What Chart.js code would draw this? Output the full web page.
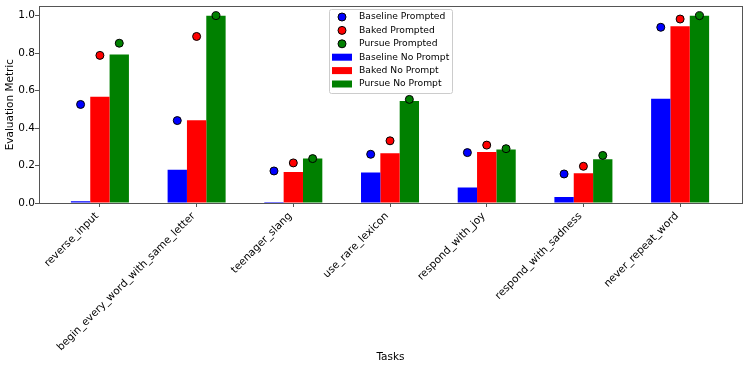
<!DOCTYPE html>
<html>
<head>
<meta charset="utf-8">
<script src="https://cdn.jsdelivr.net/npm/chart.js@4.4.0/dist/chart.umd.min.js"></script>
<style>
  html, body { margin: 0; padding: 0; background: #fff; }
  #wrap { width: 748px; height: 368px; }
</style>
</head>
<body>
<div id="wrap"><canvas id="task_chart" width="748" height="368"></canvas></div>
<script>
// DATA
const tasks = [
  "reverse_input",
  "begin_every_word_with_same_letter",
  "teenager_slang",
  "use_rare_lexicon",
  "respond_with_joy",
  "respond_with_sadness",
  "never_repeat_word",
];
const baseline_prompted = [0.526, 0.44, 0.171, 0.26, 0.269, 0.155, 0.938];
const baked_prompted = [0.788, 0.889, 0.214, 0.332, 0.309, 0.196, 0.982];
const pursue_prompted = [0.853, 1.0, 0.237, 0.553, 0.29, 0.254, 1.0];
const baseline_no_prompt = [0.009, 0.177, 0.005, 0.163, 0.083, 0.032, 0.556];
const baked_no_prompt = [0.567, 0.442, 0.166, 0.265, 0.272, 0.159, 0.943];
const pursue_no_prompt = [0.793, 1.0, 0.238, 0.544, 0.286, 0.233, 1.0];
const y_ticks = [0, 0.2, 0.4, 0.6, 0.8, 1.0];

const ctx = document.getElementById("task_chart").getContext("2d");

Chart.defaults.font.family = "'DejaVu Sans'";
Chart.defaults.color = "#000";

// points sit over their bar in the group (bar width 0.2)
function pointsAt(values, shift) {
  return values.map((v, i) => ({ x: i + shift, y: v }));
}

function barsAt(values) {
  return values.map((v, i) => ({ x: i, y: v }));
}

function scatterSet(label, values, shift, color) {
  return {
    type: "scatter",
    label: label,
    data: pointsAt(values, shift),
    backgroundColor: color,
    borderColor: "#000",
    borderWidth: 1,
    pointRadius: 4,
  };
}

function barSet(label, values, color) {
  return {
    type: "bar",
    label: label,
    data: barsAt(values),
    backgroundColor: color,
    borderWidth: 0,
    categoryPercentage: 0.6,
    barPercentage: 1.0,
  };
}

// frame round the plot (matplotlib spines)
const frame_plugin = {
  id: "frame_plugin",
  afterDatasetsDraw(chart) {
    const a = chart.chartArea;
    const c = chart.ctx;
    c.save();
    c.strokeStyle = "#555";
    c.lineWidth = 1;
    c.strokeRect(Math.round(a.left) + 0.5, Math.round(a.top) + 0.5,
      Math.round(a.right - a.left), Math.round(a.bottom - a.top));
    c.restore();
  },
};

// legend box drawn by hand, one column
const legend_plugin = {
  id: "legend_plugin",
  afterDraw(chart) {
    const c = chart.ctx;
    const x = 329, y = 9, w = 123, h = 84;
    c.save();
    c.fillStyle = "rgba(255,255,255,0.85)";
    c.strokeStyle = "#cccccc";
    c.lineWidth = 1;
    c.beginPath();
    c.roundRect(x + 0.5, y + 0.5, w, h, 2);
    c.fill();
    c.stroke();
    c.font = "9.2px 'DejaVu Sans'";
    c.textBaseline = "middle";
    chart.data.datasets.forEach((ds, i) => {
      const cy = y + 8 + i * 13.4;
      if (ds.type === "scatter") {
        c.beginPath();
        c.arc(342, cy, 4, 0, Math.PI * 2);
        c.fillStyle = ds.backgroundColor;
        c.fill();
        c.strokeStyle = "#000";
        c.stroke();
      } else {
        c.fillStyle = ds.backgroundColor;
        c.fillRect(332, cy - 3.5, 20, 7);
      }
      c.fillStyle = "#000";
      c.fillText(ds.label, 359, cy);
    });
    c.restore();
  },
};

new Chart(ctx, {
  type: "bar",
  data: {
    datasets: [
      scatterSet("Baseline Prompted", baseline_prompted, -0.2, "#0000ff"),
      scatterSet("Baked Prompted", baked_prompted, 0, "#ff0000"),
      scatterSet("Pursue Prompted", pursue_prompted, 0.2, "#008000"),
      barSet("Baseline No Prompt", baseline_no_prompt, "#0000ff"),
      barSet("Baked No Prompt", baked_no_prompt, "#ff0000"),
      barSet("Pursue No Prompt", pursue_no_prompt, "#008000"),
    ],
  },
  options: {
    responsive: false,
    animation: false,
    devicePixelRatio: 1,
    layout: { padding: { left: 0, right: 6, top: 3, bottom: 0 } },
    plugins: {
      legend: { display: false },
      tooltip: { enabled: false },
    },
    scales: {
      x: {
        type: "linear",
        offset: false,
        min: -0.63,
        max: 6.64,
        afterBuildTicks: (scale) => {
          scale.ticks = tasks.map((t, i) => ({ value: i }));
        },
        afterFit: (scale) => {
          scale.height = 165;
        },
        ticks: {
          autoSkip: false,
          minRotation: 45,
          maxRotation: 45,
          padding: 3,
          labelOffset: -3,
          font: { size: 10.5 },
          callback: (value) => tasks[Math.round(value)],
        },
        grid: {
          display: true,
          offset: false,
          drawOnChartArea: false,
          drawTicks: true,
          tickLength: 4,
          color: "#555",
        },
        border: { display: true, color: "#555" },
        title: {
          display: true,
          text: "Tasks",
          font: { size: 10.5 },
          padding: { top: 4, bottom: 4 },
        },
      },
      y: {
        min: 0,
        max: 1.05,
        afterBuildTicks: (scale) => {
          scale.ticks = y_ticks.map((v) => ({ value: v }));
        },
        afterFit: (scale) => {
          scale.width = 39;
        },
        ticks: {
          padding: 0,
          font: { size: 10.5 },
          callback: (value) => value.toFixed(1),
        },
        grid: {
          display: true,
          offset: false,
          drawOnChartArea: false,
          drawTicks: true,
          tickLength: 4,
          color: "#555",
        },
        border: { display: true, color: "#555" },
        title: {
          display: true,
          text: "Evaluation Metric",
          font: { size: 10.5 },
          padding: { top: 4, bottom: 4 },
        },
      },
    },
  },
  plugins: [frame_plugin, legend_plugin],
});
</script>
</body>
</html>
